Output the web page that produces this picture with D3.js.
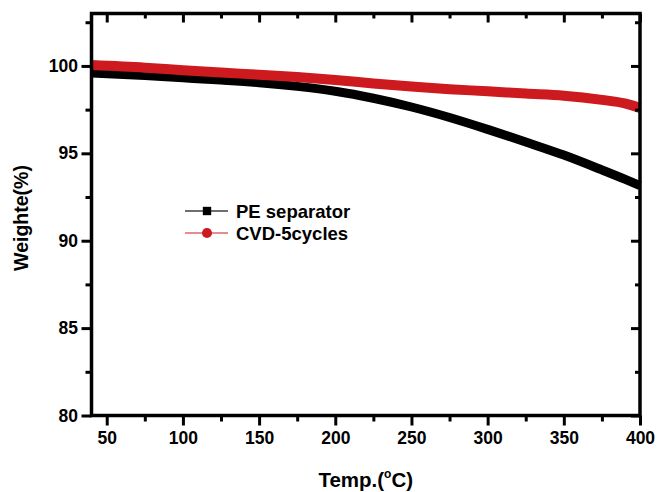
<!DOCTYPE html>
<html>
<head>
<meta charset="utf-8">
<script src="https://cdn.jsdelivr.net/npm/d3@7"></script>
<style>
  body { margin: 0; background: #fff; }
  svg { display: block; font-family: "Liberation Sans", Arial, sans-serif; font-weight: bold; }
</style>
</head>
<body>
<div id="chart"></div>
<script>
// temperature (°C) sample points
const temps = [40, 75, 100, 125, 150, 175, 200, 225, 250, 275, 300, 325, 350, 375, 390, 400];
const peWeight = [99.6, 99.45, 99.32, 99.19, 99.04, 98.83, 98.55, 98.15, 97.65, 97.05, 96.37, 95.65, 94.9, 94.05, 93.52, 93.15];
const cvdWeight = [100.05, 99.9, 99.75, 99.62, 99.5, 99.37, 99.2, 99.0, 98.82, 98.67, 98.55, 98.42, 98.3, 98.06, 97.86, 97.6];

const xTicks = [50, 100, 150, 200, 250, 300, 350, 400];
const xMinor = [75, 125, 175, 225, 275, 325, 375];
const yTicks = [80, 85, 90, 95, 100];
const yMinor = [82.5, 87.5, 92.5, 97.5, 102.5];

const seriesNames = ['PE separator', 'CVD-5cycles'];
const seriesColors = ['#000000', '#cc1a1f'];

const width = 658, height = 492;
const margin = { top: 13.5, right: 18, bottom: 76.5, left: 91.5 };
const w = width - margin.left - margin.right;
const h = height - margin.top - margin.bottom;

const svg = d3.select('#chart').append('svg')
  .attr('width', width)
  .attr('height', height);

const g = svg.append('g').attr('transform', `translate(${margin.left},${margin.top})`);

const x = d3.scaleLinear().domain([40, 400]).range([0, w]);
const y = d3.scaleLinear().domain([80, 103]).range([h, 0]);

// data lines (dense markers in the original show up as thick bands)
const line = (vals) => d3.line()
  .x((d, i) => x(temps[i]))
  .y(d => y(d))
  .curve(d3.curveMonotoneX)(vals);

g.append('path')
  .attr('d', line(peWeight))
  .attr('fill', 'none')
  .attr('stroke', seriesColors[0])
  .attr('stroke-width', 9);

g.append('path')
  .attr('d', line(cvdWeight))
  .attr('fill', 'none')
  .attr('stroke', seriesColors[1])
  .attr('stroke-width', 10);

// axes
const styleAxis = (sel, hideText) => {
  sel.select('.domain').remove();
  sel.selectAll('.tick line').attr('stroke', '#000').attr('stroke-width', 3);
  sel.selectAll('.tick text').attr('fill', '#000')
    .style('font-size', '17.5px').style('font-weight', 'bold')
    .style('font-family', '"Liberation Sans", Arial, sans-serif');
  if (hideText) sel.selectAll('.tick text').remove();
};

g.append('g').attr('transform', `translate(0,${h})`)
  .call(d3.axisBottom(x).tickValues(xTicks).tickSize(10).tickPadding(6).tickFormat(d3.format('d')))
  .call(s => styleAxis(s, false));
g.append('g').attr('transform', `translate(0,${h})`)
  .call(d3.axisBottom(x).tickValues(xMinor).tickSize(6))
  .call(s => styleAxis(s, true));

g.append('g')
  .call(d3.axisLeft(y).tickValues(yTicks).tickSize(10).tickPadding(3.5).tickFormat(d3.format('d')))
  .call(s => styleAxis(s, false));
g.append('g')
  .call(d3.axisLeft(y).tickValues(yMinor).tickSize(6))
  .call(s => styleAxis(s, true));

// mirrored ticks on top and right, pointing in
g.append('g')
  .call(d3.axisTop(x).tickValues(xTicks).tickSize(-9))
  .call(s => styleAxis(s, true));
g.append('g')
  .call(d3.axisTop(x).tickValues(xMinor).tickSize(-5))
  .call(s => styleAxis(s, true));
g.append('g').attr('transform', `translate(${w},0)`)
  .call(d3.axisRight(y).tickValues(yTicks).tickSize(-9))
  .call(s => styleAxis(s, true));
g.append('g').attr('transform', `translate(${w},0)`)
  .call(d3.axisRight(y).tickValues(yMinor).tickSize(-5))
  .call(s => styleAxis(s, true));

// frame
g.append('rect')
  .attr('x', 0).attr('y', 0)
  .attr('width', w).attr('height', h)
  .attr('fill', 'none')
  .attr('stroke', '#000')
  .attr('stroke-width', 3.5);

// axis titles
svg.append('text')
  .attr('transform', `translate(28,${margin.top + y(91.3)}) rotate(-90)`)
  .attr('text-anchor', 'middle')
  .style('font-size', '19.5px')
  .text('Weighte(%)');

const xt = svg.append('text')
  .attr('x', margin.left + x(220))
  .attr('y', 487)
  .attr('text-anchor', 'middle')
  .style('font-size', '20.5px');
xt.append('tspan').text('Temp.(');
xt.append('tspan').attr('dy', -9).style('font-size', '12px').text('o');
xt.append('tspan').attr('dy', 9).text('C)');

// legend
const legend = svg.append('g').attr('transform', 'translate(185,211)');
seriesNames.forEach((name, i) => {
  const row = legend.append('g').attr('transform', `translate(0,${i * 22})`);
  row.append('line')
    .attr('x1', 0).attr('x2', 43)
    .attr('stroke', seriesColors[i])
    .attr('stroke-width', i === 0 ? 1.5 : 1.2)
    .attr('opacity', i === 0 ? 0.75 : 1);
  row.append('path')
    .attr('transform', 'translate(22,0)')
    .attr('d', d3.symbol().type(i === 0 ? d3.symbolSquare : d3.symbolCircle).size(i === 0 ? 70 : 80)())
    .attr('fill', seriesColors[i]);
  row.append('text')
    .attr('x', 51).attr('y', 0).attr('dy', '0.36em')
    .style('font-size', '18.5px')
    .text(name);
});
</script>
</body>
</html>
